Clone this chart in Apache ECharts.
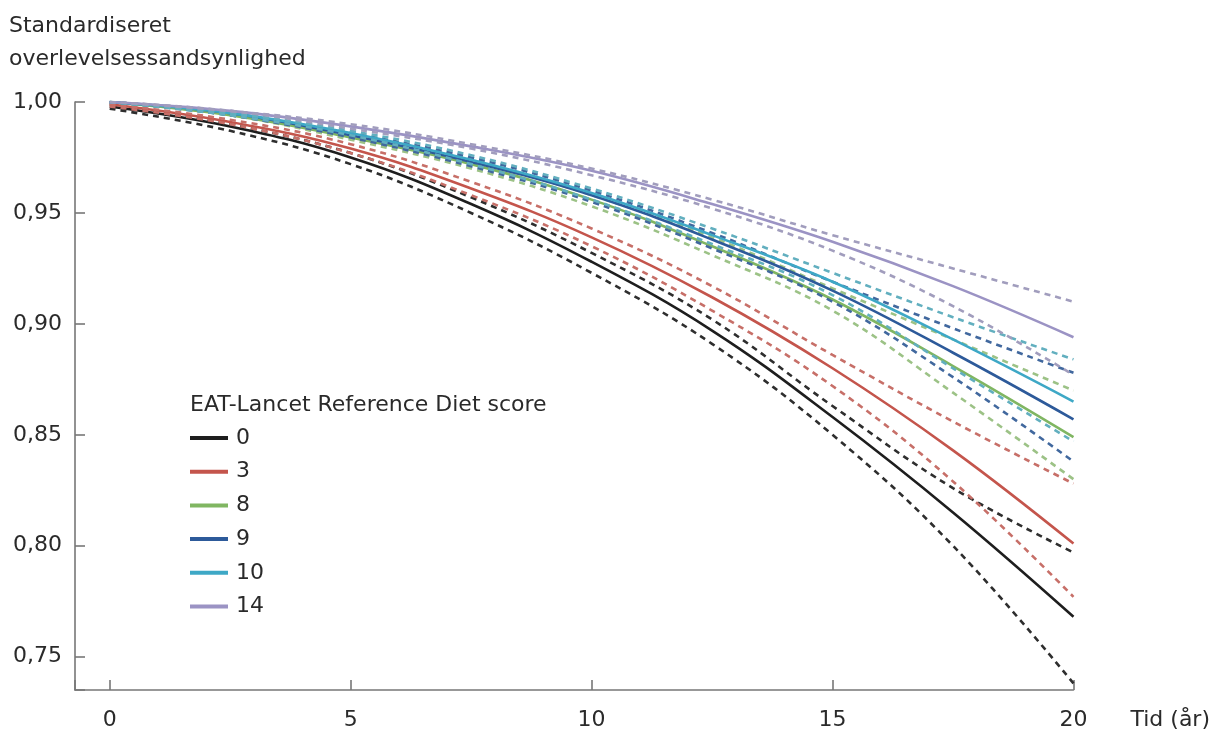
<!DOCTYPE html>
<html>
<head>
<meta charset="utf-8">
<title>Standardiseret overlevelsessandsynlighed</title>
<script src="https://cdn.jsdelivr.net/npm/echarts@6/dist/echarts.min.js"></script>
<style>
  html, body { margin: 0; padding: 0; background: #fff; }
  #chart { width: 1213px; height: 731px; }
</style>
</head>
<body>
<div id="chart"></div>
<script>
// tid i år
var years = [0, 2.5, 5, 7.5, 10, 12.5, 15, 17.5, 20];

// score 0
var s0    = [0.998, 0.989, 0.975, 0.954, 0.928, 0.897, 0.858, 0.815, 0.768];
var s0Hi  = [0.999, 0.990, 0.977, 0.957, 0.932, 0.902, 0.863, 0.826, 0.797];
var s0Lo  = [0.997, 0.987, 0.972, 0.950, 0.923, 0.891, 0.850, 0.800, 0.738];
// score 3
var s3    = [0.999, 0.991, 0.979, 0.961, 0.939, 0.912, 0.880, 0.843, 0.801];
var s3Hi  = [0.999, 0.992, 0.981, 0.964, 0.943, 0.917, 0.886, 0.856, 0.828];
var s3Lo  = [0.998, 0.990, 0.977, 0.958, 0.935, 0.906, 0.872, 0.829, 0.777];
// score 8
var s8    = [1.000, 0.994, 0.984, 0.972, 0.956, 0.935, 0.911, 0.881, 0.849];
var s8Hi  = [1.000, 0.995, 0.986, 0.974, 0.958, 0.939, 0.916, 0.893, 0.870];
var s8Lo  = [1.000, 0.994, 0.983, 0.970, 0.953, 0.931, 0.906, 0.869, 0.830];
// score 9
var s9    = [1.000, 0.995, 0.985, 0.973, 0.958, 0.938, 0.915, 0.887, 0.857];
var s9Hi  = [1.000, 0.995, 0.986, 0.975, 0.960, 0.941, 0.919, 0.898, 0.878];
var s9Lo  = [1.000, 0.994, 0.984, 0.971, 0.955, 0.934, 0.910, 0.876, 0.838];
// score 10
var s10   = [1.000, 0.995, 0.986, 0.974, 0.959, 0.940, 0.919, 0.893, 0.865];
var s10Hi = [1.000, 0.995, 0.987, 0.976, 0.961, 0.943, 0.923, 0.903, 0.884];
var s10Lo = [1.000, 0.994, 0.985, 0.972, 0.956, 0.936, 0.913, 0.880, 0.847];
// score 14
var s14   = [1.000, 0.996, 0.989, 0.980, 0.969, 0.954, 0.937, 0.917, 0.894];
var s14Hi = [1.000, 0.996, 0.990, 0.981, 0.970, 0.956, 0.940, 0.925, 0.910];
var s14Lo = [1.000, 0.996, 0.988, 0.979, 0.967, 0.952, 0.933, 0.908, 0.877];

var groups = [
  {name: '0',  mid: s0,  hi: s0Hi,  lo: s0Lo,  color: '#1e1e1e', dash: '#2e2e2e'},
  {name: '3',  mid: s3,  hi: s3Hi,  lo: s3Lo,  color: '#c4554c', dash: '#c76f68'},
  {name: '8',  mid: s8,  hi: s8Hi,  lo: s8Lo,  color: '#80b662', dash: '#9cc286'},
  {name: '9',  mid: s9,  hi: s9Hi,  lo: s9Lo,  color: '#2d5a9a', dash: '#41689e'},
  {name: '10', mid: s10, hi: s10Hi, lo: s10Lo, color: '#3ea8c6', dash: '#62afbf'},
  {name: '14', mid: s14, hi: s14Hi, lo: s14Lo, color: '#9b93c4', dash: '#a19dbd'}
];

function pairs(vals){
  var out = [];
  for(var i=0;i<years.length;i++){
    out.push([years[i], vals[i]]);
  }
  return out;
}

var seriesData = [];
for(var g=0;g<groups.length;g++){
  var gr = groups[g];
  seriesData.push({
    name: gr.name, type: 'line', smooth: 0.4, symbol: 'none',
    data: pairs(gr.mid),
    lineStyle: {color: gr.color, width: 2.6},
    itemStyle: {color: gr.color}
  });
  seriesData.push({
    name: gr.name, type: 'line', smooth: 0.4, symbol: 'none',
    data: pairs(gr.hi),
    lineStyle: {color: gr.dash, width: 2.6, type: [6, 5]},
    itemStyle: {color: gr.color}
  });
  seriesData.push({
    name: gr.name, type: 'line', smooth: 0.4, symbol: 'none',
    data: pairs(gr.lo),
    lineStyle: {color: gr.dash, width: 2.6, type: [6, 5]},
    itemStyle: {color: gr.color}
  });
}

var fontName = 'DejaVu Sans';
var myChart = echarts.init(document.getElementById('chart'));
var option = {
  animation: false,
  backgroundColor: '#fff',
  textStyle: {fontFamily: fontName},
  title: [
    {
      text: 'Standardiseret\noverlevelsessandsynlighed',
      left: 9, top: 10, padding: 0,
      textStyle: {fontFamily: fontName, fontSize: 22, fontWeight: 'normal', color: '#2a2a2a', lineHeight: 33}
    },
    {
      text: 'EAT-Lancet Reference Diet score',
      left: 190, top: 394, padding: 0,
      textStyle: {fontFamily: fontName, fontSize: 22, fontWeight: 'normal', color: '#2a2a2a', lineHeight: 22}
    }
  ],
  legend: {
    data: ['0', '3', '8', '9', '10', '14'],
    orient: 'vertical',
    left: 190, top: 427, padding: 0,
    icon: 'rect',
    itemWidth: 38, itemHeight: 4, itemGap: 11.7,
    textStyle: {fontFamily: fontName, fontSize: 22, color: '#2a2a2a', lineHeight: 22, padding: [0, 0, 0, 3]}
  },
  grid: {left: 75, right: 136, top: 102, bottom: 41},
  xAxis: {
    type: 'value', min: -0.72, max: 20,
    name: 'Tid (år)', nameLocation: 'end', nameGap: 57,
    nameTextStyle: {fontFamily: fontName, fontSize: 22, color: '#2a2a2a', verticalAlign: 'top', padding: [19, 0, 0, 0]},
    axisLine: {show: true, onZero: false, lineStyle: {color: '#777', width: 1.6}},
    axisTick: {show: true, inside: true, length: 10, lineStyle: {color: '#777', width: 1.6}},
    axisLabel: {
      margin: 19, fontFamily: fontName, fontSize: 22, color: '#2a2a2a',
      formatter: function(v){ return v < 0 ? '' : String(v); }
    },
    splitLine: {show: false}
  },
  yAxis: {
    type: 'value', min: 0.735, max: 1.0,
    axisLine: {show: true, onZero: false, lineStyle: {color: '#777', width: 1.6}},
    axisTick: {show: true, inside: true, length: 10, lineStyle: {color: '#777', width: 1.6}},
    axisLabel: {
      margin: 13, fontFamily: fontName, fontSize: 22, color: '#2a2a2a',
      formatter: function(v){
        if(Math.abs(v*20 - Math.round(v*20)) > 1e-6) return '';
        return v.toFixed(2).replace('.', ',');
      }
    },
    splitLine: {show: false}
  },
  series: seriesData
};
myChart.setOption(option);
</script>
</body>
</html>
